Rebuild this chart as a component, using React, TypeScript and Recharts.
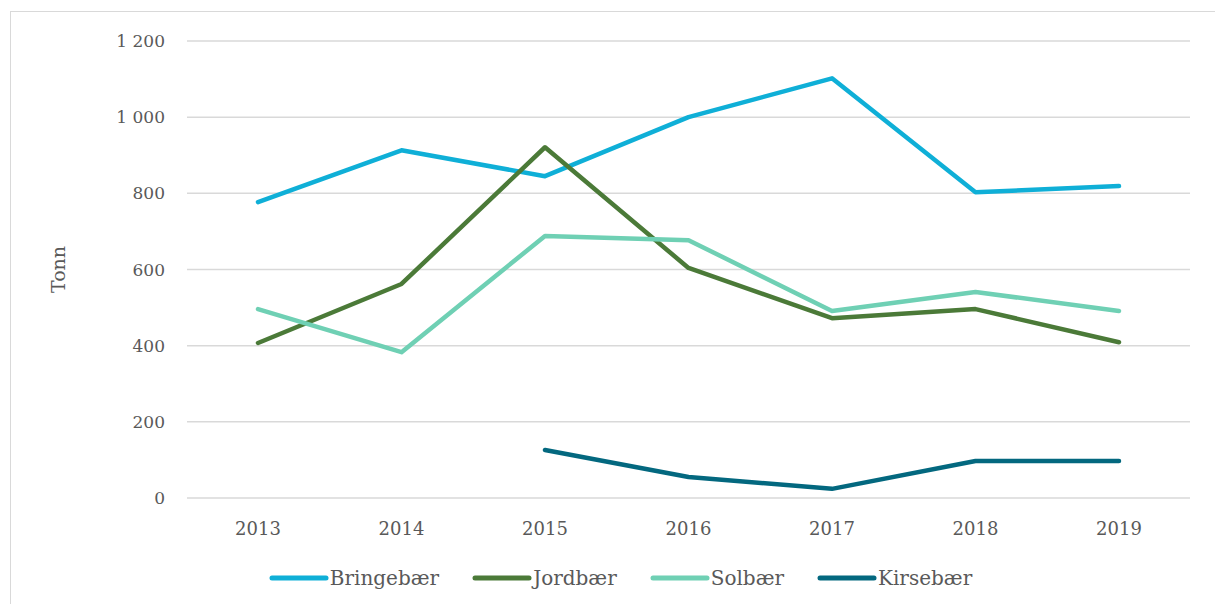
import { LineChart, Line, XAxis, YAxis, CartesianGrid, Legend } from "recharts";

const years = ["2013", "2014", "2015", "2016", "2017", "2018", "2019"];
const bringebaer = [777, 913, 845, 1000, 1102, 803, 819];
const jordbaer = [407, 562, 921, 604, 472, 496, 409];
const solbaer = [496, 383, 688, 677, 491, 541, 491];
const kirsebaer = [null, null, 126, 55, 24, 97, 97];
const yTicks = [0, 200, 400, 600, 800, 1000, 1200];

const series = [
  { key: "bringebaer", name: "Bringebær", color: "#0fafd7" },
  { key: "jordbaer", name: "Jordbær", color: "#4b7a38" },
  { key: "solbaer", name: "Solbær", color: "#6fd0b4" },
  { key: "kirsebaer", name: "Kirsebær", color: "#03687f" },
];

const data = years.map((year, i) => ({
  year,
  bringebaer: bringebaer[i],
  jordbaer: jordbaer[i],
  solbaer: solbaer[i],
  kirsebaer: kirsebaer[i],
}));

const FONT = "'DejaVu Serif', serif";
const TEXT = "#595959";

// "1200" -> "1 200"
const fmt = (v: number) => String(v).replace(/\B(?=(\d{3})+(?!\d))/g, " ");

function LegendContent() {
  return (
    <div
      style={{
        display: "flex",
        justifyContent: "center",
        gap: 33,
        paddingLeft: 40,
        fontFamily: FONT,
      }}
    >
      {series.map((s) => (
        <div key={s.key} style={{ display: "flex", alignItems: "center" }}>
          <svg width={60} height={10}>
            <line x1={3} y1={5} x2={57} y2={5} stroke={s.color} strokeWidth={5} strokeLinecap="round" />
          </svg>
          <span style={{ fontSize: 20, color: TEXT, marginLeft: 1 }}>{s.name}</span>
        </div>
      ))}
    </div>
  );
}

function YLabel(props: any) {
  const vb = props.viewBox || {};
  const x = vb.x + 47;
  const y = vb.y + vb.height / 2;
  return (
    <text
      x={x}
      y={y}
      transform={`rotate(-90, ${x}, ${y})`}
      textAnchor="middle"
      dominantBaseline="central"
      fill={TEXT}
      fontSize={19}
      fontFamily={FONT}
    >
      Tonn
    </text>
  );
}

export default function App() {
  return (
    <div
      style={{
        position: "absolute",
        left: 10,
        top: 11,
        width: 1205,
        height: 593,
        overflow: "hidden",
        background: "#fff",
      }}
    >
      <div style={{ width: 1240, height: 620, border: "1px solid #d9d9d9", boxSizing: "border-box" }}>
        <LineChart
          width={1204}
          height={592}
          data={data}
          margin={{ top: 29, right: 25, left: 0, bottom: 2 }}
        >
          <CartesianGrid stroke="#d9d9d9" strokeWidth={1.5} vertical={false} />
          <XAxis
            dataKey="year"
            axisLine={false}
            tickLine={false}
            tickSize={0}
            tickMargin={24}
            height={68}
            padding={{ left: 71, right: 71 }}
            tick={{ fill: TEXT, fontSize: 18, fontFamily: FONT }}
          />
          <YAxis
            domain={[0, 1200]}
            ticks={yTicks}
            width={176}
            axisLine={false}
            tickLine={false}
            tickSize={0}
            tickMargin={22}
            tickFormatter={fmt}
            tick={{ fill: TEXT, fontSize: 17, fontFamily: FONT }}
            label={<YLabel />}
          />
          <Legend verticalAlign="bottom" height={36} content={<LegendContent />} />
          {series.map((s) => (
            <Line
              key={s.key}
              type="linear"
              dataKey={s.key}
              name={s.name}
              stroke={s.color}
              strokeWidth={4.5}
              strokeLinecap="round"
              strokeLinejoin="round"
              dot={false}
              activeDot={false}
              isAnimationActive={false}
            />
          ))}
        </LineChart>
      </div>
    </div>
  );
}
